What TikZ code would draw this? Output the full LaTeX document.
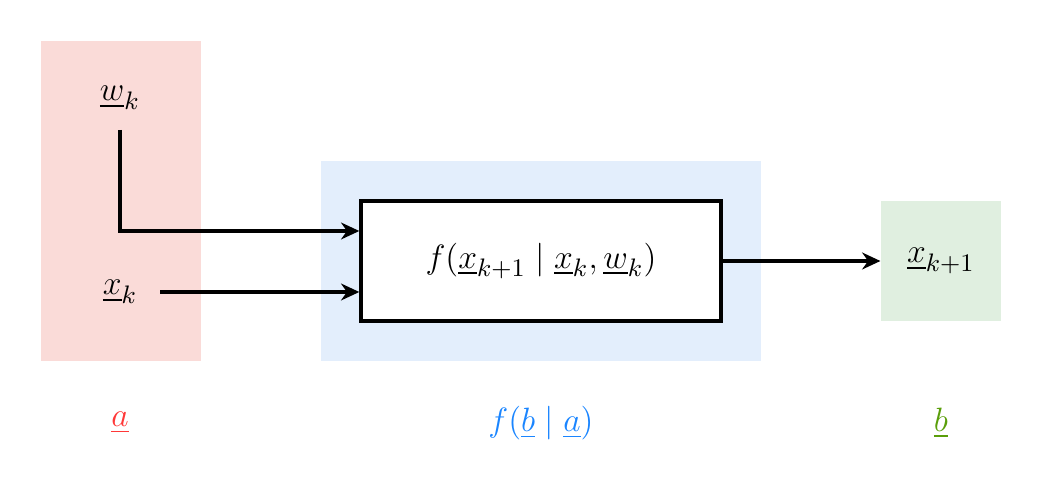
\documentclass[tikz,border=0pt]{standalone}
\usepackage{amsmath}
\usepackage{amssymb}
\usepackage{xcolor}
\usetikzlibrary{arrows.meta, positioning, calc}
\definecolor{redbg}{HTML}{FADBD8}
\definecolor{bluebg}{HTML}{E3EEFC}
\definecolor{greenbg}{HTML}{E0EFE0}
\definecolor{redtxt}{HTML}{FF3838}
\definecolor{bluetxt}{HTML}{1A85FF}
\definecolor{greentxt}{HTML}{5A9E0A}
\tikzset{
  flow/.style={-{Stealth[length=6.5pt,width=6pt]}, line width=1.2pt},
  varnode/.style={inner sep=2pt},
}
\begin{document}
\begin{tikzpicture}[x=0.5cm,y=-0.5cm,every node/.style={font=\fontsize{12.7}{15}\selectfont}]
  \useasboundingbox (0,0) rectangle (26.075,12.075);
  \def\off{0.75}
  % backgrounds
  \fill[redbg]   (1.025,1.025) rectangle (5.025,9.025);
  \fill[bluebg]  (8.025,4.025) rectangle (19.025,9.025);
  % nodes
  \node[draw,fill=white,line width=1.2pt,minimum width=4.5cm,minimum height=1.5cm] (fbox) at (13.525,6.525)
    {$f(\underline{x}_{k+1} \mid \underline{x}_k, \underline{w}_k)$};
  \node[fill=greenbg,minimum width=1.5cm,minimum height=1.5cm] (xnext) at (23.525,6.525)
    {$\underline{x}_{k+1}$};
  \node[varnode] (wk) at (3,2.45) {$\underline{w}_k$};
  \node[varnode] (xk) at (3,7.3) {$\underline{x}_k$};
  % connectors
  \draw[flow,shorten <=5pt] (wk.south) |- ($(fbox.west)+(0,-\off)$);
  \draw[flow,shorten <=6pt] (xk.east) -- (xk.east -| fbox.west);
  \draw[flow] (fbox.east) -- (xnext.west);
  % labels
  \node[text=redtxt]   (lbla) at (3,10.575)      {$\underline{a}$};
  \node[text=bluetxt]  (lblf) at (13.525,10.575) {$f(\underline{b} \mid \underline{a})$};
  \node[text=greentxt] (lblb) at (23.525,10.575) {$\underline{b}$};
\end{tikzpicture}
\end{document}
